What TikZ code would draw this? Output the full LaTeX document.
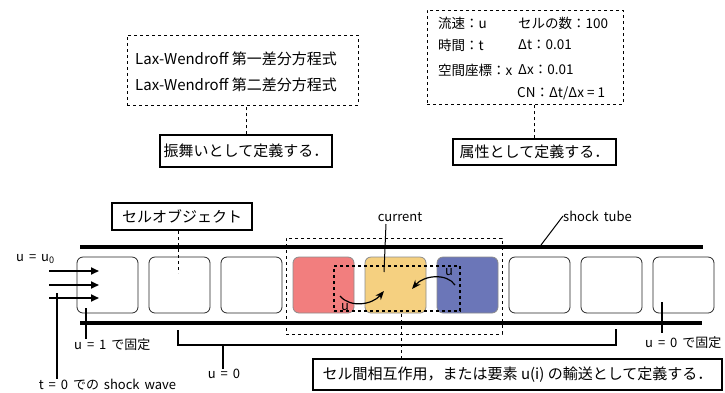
\documentclass[tikz,border=0pt]{standalone}
\usepackage{fontspec}
\setmainfont{Noto Sans CJK JP}
\newfontfamily\widefam[WordSpace=1.7]{Noto Sans CJK JP}
\usetikzlibrary{arrows.meta}
\definecolor{cred}{HTML}{F27E7E}
\definecolor{cyel}{HTML}{F5D080}
\definecolor{cblu}{HTML}{6B76B8}
\begin{document}
\begin{tikzpicture}[x=1pt,y=-1pt,
  bigfont/.style={font=\fontsize{15}{18}\selectfont},
  midfont/.style={font=\fontsize{13.5}{16}\selectfont},
  smallfont/.style={font=\widefam\fontsize{13}{15}\selectfont},
  dbox/.style={draw, dashed, line width=0.8pt, inner sep=0pt},
  lbox/.style={draw, line width=1.5pt, inner sep=0pt, bigfont},
  cell/.style={draw=black!85, rounded corners=6pt, line width=0.8pt, minimum width=61pt, minimum height=56pt, inner sep=0pt},
  ccell/.style={cell, draw=black!45},
  tube/.style={line width=3.8pt},
  thin/.style={line width=1.5pt},
  conn/.style={dashed, line width=0.8pt},
  flow/.style={line width=1.8pt, -{Triangle[length=8pt,width=7pt]}},
  curv/.style={line width=1.2pt, -{Stealth[length=9pt,width=7pt]}}
]
\useasboundingbox (0,0) rectangle (725,392);

% top-left box
\node[dbox, minimum width=231pt, minimum height=70pt] (b1) at (242.5,70) {};
\node[bigfont, anchor=west, inner sep=0pt] (b1t1) at (135,59) {Lax-Wendroff 第一差分方程式};
\node[bigfont, anchor=west, inner sep=0pt] (b1t2) at (135,85) {Lax-Wendroff 第二差分方程式};
\node[lbox, minimum width=172pt, minimum height=32pt] (l1) at (246,151) {振舞いとして定義する．};
\draw[conn] (l1.north) -- (l1.north |- b1.south);

% top-right box
\node[dbox, minimum width=196pt, minimum height=94pt] (b2) at (525,57) {};
\node[midfont, anchor=west, inner sep=0pt] (p1) at (438,23) {流速：u};
\node[midfont, anchor=west, inner sep=0pt] (p2) at (438,45) {時間：t};
\node[midfont, anchor=west, inner sep=0pt] (p3) at (438,70) {空間座標：x};
\node[midfont, anchor=west, inner sep=0pt] (q1) at (518,23) {セルの数：100};
\node[midfont, anchor=west, inner sep=0pt] (q2) at (518,45) {Δt：0.01};
\node[midfont, anchor=west, inner sep=0pt] (q3) at (518,70) {Δx：0.01};
\node[midfont, anchor=west, inner sep=0pt] (q4) at (517,93) {CN：Δt/Δx = 1};
\node[lbox, minimum width=163pt, minimum height=26pt] (l2) at (534.5,152) {属性として定義する．};
\draw[conn] (l2.north) -- (l2.north |- b2.south);

% tube walls
\coordinate (tw1) at (80,247);
\coordinate (tw2) at (703,247);
\coordinate (bw1) at (80,323);
\coordinate (bw2) at (702,323);
\draw[tube] (tw1) -- (tw2);
\draw[tube] (bw1) -- (bw2);

% cells
\node[cell] (c1) at (107.5,285) {};
\node[cell] (c2) at (179.5,285) {};
\node[cell] (c3) at (251.5,285) {};
\node[ccell, fill=cred] (c4) at (323.5,285) {};
\node[ccell, fill=cyel] (c5) at (395.5,285) {};
\node[ccell, fill=cblu] (c6) at (467.5,285) {};
\node[cell] (c7) at (539.5,285) {};
\node[cell] (c8) at (611.5,285) {};
\node[cell] (c9) at (683.5,285) {};

% cell object label
\node[lbox, line width=2pt, minimum width=140pt, minimum height=27pt] (so) at (182,216.5) {セルオブジェクト};
\coordinate (soend) at (178,273);
\draw[conn] (so.south -| soend) -- (soend);

% inflow arrows
\coordinate (a1s) at (49,271); \coordinate (a1e) at (99,271);
\coordinate (a2s) at (49,285); \coordinate (a2e) at (99,285);
\coordinate (a3s) at (49,298); \coordinate (a3e) at (99,298);
\draw[flow] (a1s) -- (a1e);
\draw[flow] (a2s) -- (a2e);
\draw[flow] (a3s) -- (a3e);
\node[smallfont, anchor=west, inner sep=0pt] (uu0) at (16,259) {u = u\textsubscript{0}};

% t = 0 shock wave
\node[smallfont, inner sep=0pt] (tsw) at (107.5,385) {t = 0 での shock wave};
\coordinate (tswtop) at (57,293);
\draw[thin] (tswtop) -- (tswtop |- tsw.north);

% u = 1 fixed
\node[smallfont, anchor=west, inner sep=0pt] (u1f) at (74,345) {u = 1 で固定};
\coordinate (u1top) at (86,308);
\draw[thin] (u1top) -- (86,339);

% u = 0 bracket
\coordinate (br1) at (178,330);
\coordinate (br2) at (616,329);
\coordinate (brm) at (223,345);
\draw[thin] (br1) -- (br1 |- brm) -- (br2 |- brm) -- (br2);
\node[smallfont, inner sep=0pt] (u0) at (224,374) {u = 0};
\draw[thin] (brm) -- (brm |- u0.north);

% u = 0 fixed
\node[smallfont, anchor=west, inner sep=0pt] (u0f) at (645,343) {u = 0 で固定};
\coordinate (u0top) at (662,302);
\draw[thin] (u0top) -- (662,333);

% interaction region
\node[dbox, minimum width=216pt, minimum height=96pt] (big) at (394,286) {};
\node[draw, dashed, line width=1.1pt, inner sep=0pt, minimum width=126pt, minimum height=45pt] (inner) at (397,288.5) {};
\node[lbox, minimum width=409pt, minimum height=31pt] (l3) at (517.5,374.5) {セル間相互作用，または要素 u(i) の輸送として定義する．};
\coordinate (l3top) at (401,314);
\draw[conn] (l3top) -- (l3top |- l3.north);

% current
\node[smallfont, inner sep=0pt] (cur) at (400,217) {current};
\coordinate (curend) at (384,272);
\draw[line width=1pt] (386,224) -- (curend);

% transport arrows
\coordinate (ls) at (340,296); \coordinate (le) at (384,291);
\coordinate (rs) at (455,285); \coordinate (re) at (412,289);
\draw[curv] (ls) .. controls (350,308) and (372,305) .. (le);
\draw[curv] (rs) .. controls (447,273) and (424,275) .. (re);
\node[smallfont, inner sep=0pt] (ul) at (345,307) {u};
\node[smallfont, inner sep=0pt] (ur) at (449,272) {u};

% shock tube label
\node[smallfont, anchor=west, inner sep=0pt] (st) at (563,216) {shock tube};
\coordinate (stend) at (541,245);
\draw[line width=1pt] (st.west) -- (stend);
\end{tikzpicture}
\end{document}
